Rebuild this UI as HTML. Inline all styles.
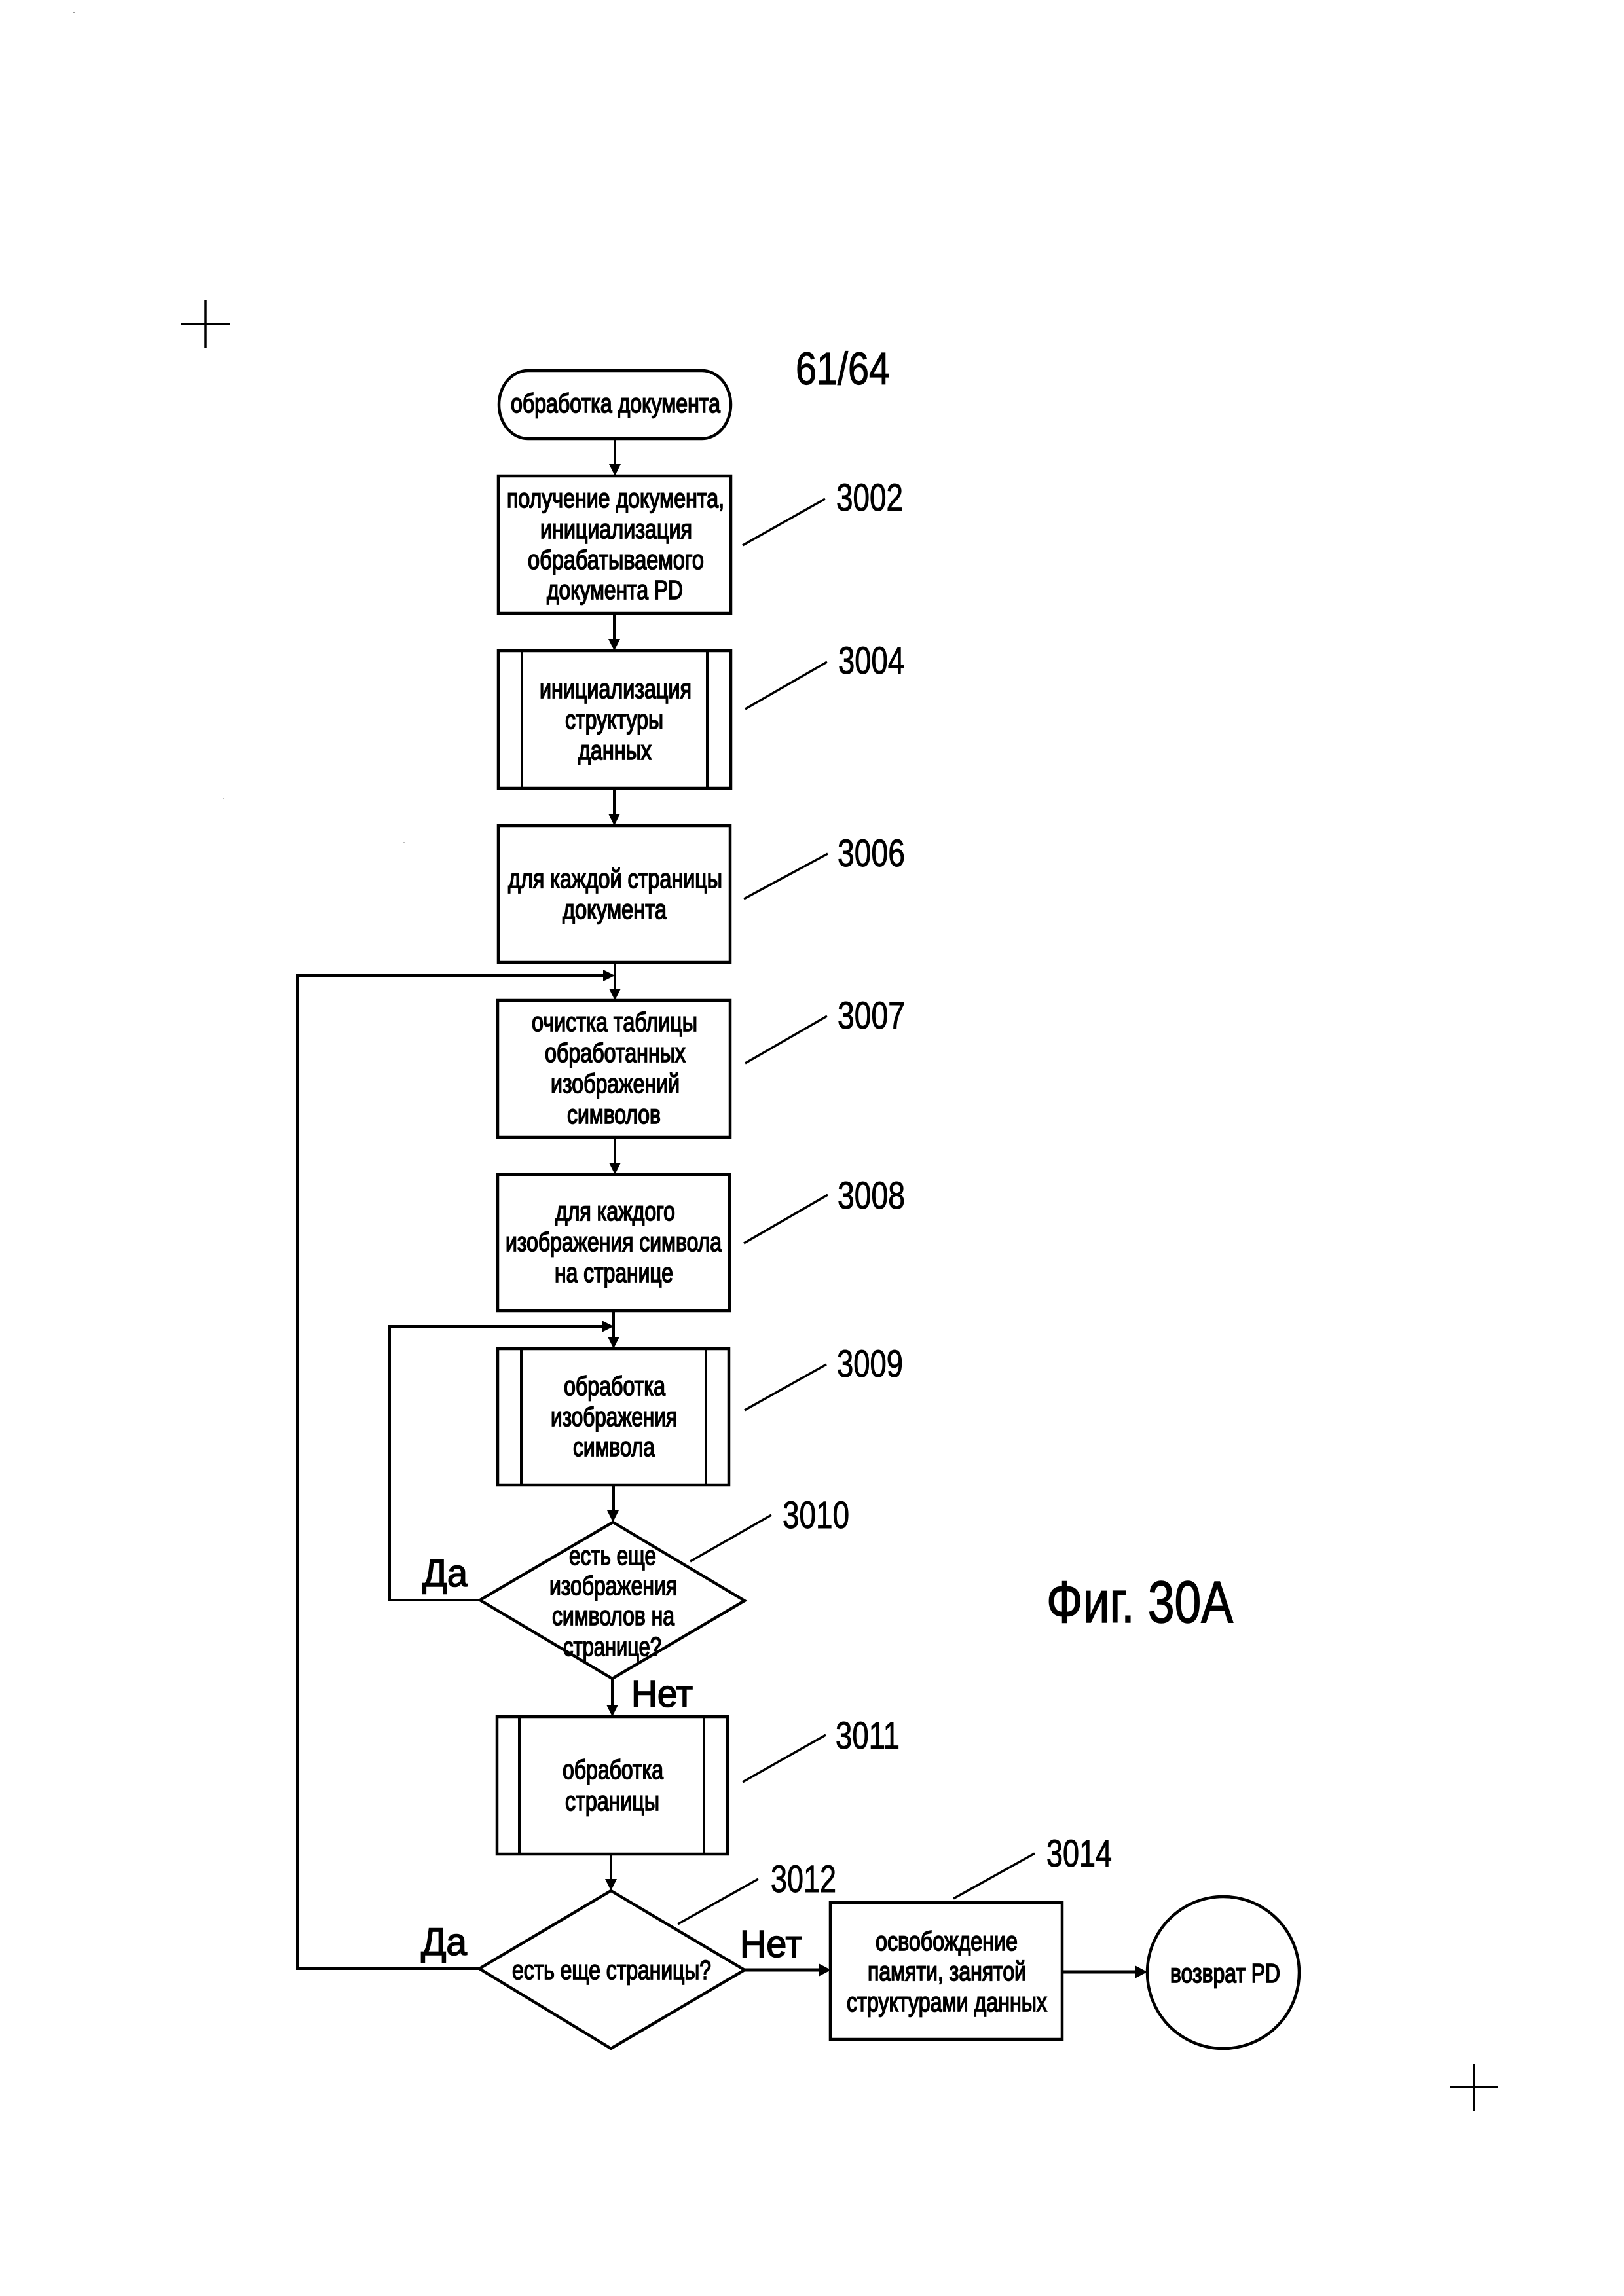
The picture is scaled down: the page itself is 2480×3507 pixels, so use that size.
<!DOCTYPE html>
<html lang="ru">
<head>
<meta charset="utf-8">
<title>Фиг. 30А</title>
<style>
html,body{margin:0;padding:0;background:#fff;}
svg{display:block;}
text{font-family:"Liberation Sans",sans-serif;fill:#000;}
.t{font-size:41px;stroke:#000;stroke-width:1.7px;}
.n{font-size:58px;stroke:#000;stroke-width:1px;}
.y{font-size:58px;stroke:#000;stroke-width:1.6px;}
.s{fill:#fff;stroke:#000;stroke-width:4.5px;}
.l{fill:none;stroke:#000;stroke-width:4px;}
.c{fill:none;stroke:#000;stroke-width:3.5px;}
</style>
</head>
<body>
<svg xmlns="http://www.w3.org/2000/svg" width="2480" height="3507" viewBox="0 0 2480 3507">
<rect width="2480" height="3507" fill="#fff"/>

<!-- scan specks -->
<rect x="112" y="18" width="2" height="2" fill="#999"/>
<rect x="340" y="1219" width="2" height="2" fill="#bbb"/>
<rect x="615" y="1286" width="3" height="2" fill="#bbb"/>

<!-- registration marks -->
<path class="c" d="M277 495H351M314 458V532"/>
<path class="c" d="M2215 3188H2287M2251 3153V3224"/>

<!-- connectors -->
<path class="l" d="M939 670V712"/>
<polygon points="939,727 930,709 948,709"/>
<path class="l" d="M938 937V980"/>
<polygon points="938,994 929,976 947,976"/>
<path class="l" d="M938 1204V1248"/>
<polygon points="938,1261 929,1243 947,1243"/>
<path class="l" d="M939 1470V1514"/>
<polygon points="939,1528 930,1510 948,1510"/>
<path class="l" d="M939 1737V1780"/>
<polygon points="939,1794 930,1776 948,1776"/>
<path class="l" d="M937 2002V2046"/>
<polygon points="937,2060 928,2042 946,2042"/>
<path class="l" d="M937 2268V2310"/>
<polygon points="936,2325 927,2307 945,2307"/>
<path class="l" d="M935 2564V2608"/>
<polygon points="935,2622 926,2604 944,2604"/>
<path class="l" d="M933 2832V2874"/>
<polygon points="933,2888 924,2870 942,2870"/>

<path class="l" d="M733 2444H595V2026H920"/>
<polygon points="937,2026 919,2017 919,2035"/>
<path class="l" d="M732 3007H454V1490H922"/>
<polygon points="939,1490 921,1481 921,1499"/>

<path d="M1137 3009H1255" fill="none" stroke="#000" stroke-width="5"/>
<polygon points="1269,3009 1250,2999 1250,3019"/>
<path d="M1622 3012H1738" fill="none" stroke="#000" stroke-width="5"/>
<polygon points="1752,3012 1733,3002 1733,3022"/>

<!-- leader lines -->
<path class="c" d="M1134 833L1260 762"/>
<path class="c" d="M1138 1083L1263 1011"/>
<path class="c" d="M1136 1373L1264 1304"/>
<path class="c" d="M1138 1624L1263 1552"/>
<path class="c" d="M1136 1899L1264 1825"/>
<path class="c" d="M1137 2154L1262 2084"/>
<path class="c" d="M1054 2385L1178 2314"/>
<path class="c" d="M1134 2722L1261 2650"/>
<path class="c" d="M1035 2939L1158 2870"/>
<path class="c" d="M1456 2900L1580 2831"/>

<!-- shapes -->
<rect class="s" x="762" y="566" width="354" height="104" rx="44" ry="52"/>
<rect class="s" x="761" y="727" width="355" height="210"/>
<rect class="s" x="761" y="994" width="355" height="210"/>
<path class="l" d="M797 994V1204M1080 994V1204"/>
<rect class="s" x="761" y="1261" width="354" height="209"/>
<rect class="s" x="760" y="1528" width="355" height="209"/>
<rect class="s" x="760" y="1794" width="354" height="208"/>
<rect class="s" x="760" y="2060" width="353" height="208"/>
<path class="l" d="M796 2060V2268M1078 2060V2268"/>
<polygon class="s" points="936,2325 1137,2445 935,2564 733,2444"/>
<rect class="s" x="759" y="2622" width="352" height="210"/>
<path class="l" d="M793 2622V2832M1075 2622V2832"/>
<polygon class="s" points="933,2888 1137,3009 933,3129 732,3007"/>
<rect class="s" x="1268" y="2906" width="354" height="209"/>
<ellipse class="s" cx="1868" cy="3013" rx="116" ry="116"/>

<!-- node text -->
<text class="t" x="780" y="630" textLength="320" lengthAdjust="spacingAndGlyphs">обработка документа</text>

<text class="t" x="774" y="775" textLength="332" lengthAdjust="spacingAndGlyphs">получение документа,</text>
<text class="t" x="825" y="822" textLength="232" lengthAdjust="spacingAndGlyphs">инициализация</text>
<text class="t" x="806" y="869" textLength="269" lengthAdjust="spacingAndGlyphs">обрабатываемого</text>
<text class="t" x="835" y="915" textLength="208" lengthAdjust="spacingAndGlyphs">документа PD</text>

<text class="t" x="824" y="1066" textLength="232" lengthAdjust="spacingAndGlyphs">инициализация</text>
<text class="t" x="863" y="1113" textLength="150" lengthAdjust="spacingAndGlyphs">структуры</text>
<text class="t" x="883" y="1160" textLength="112" lengthAdjust="spacingAndGlyphs">данных</text>

<text class="t" x="776" y="1356" textLength="327" lengthAdjust="spacingAndGlyphs">для каждой страницы</text>
<text class="t" x="859" y="1403" textLength="159" lengthAdjust="spacingAndGlyphs">документа</text>

<text class="t" x="812" y="1575" textLength="253" lengthAdjust="spacingAndGlyphs">очистка таблицы</text>
<text class="t" x="832" y="1622" textLength="215" lengthAdjust="spacingAndGlyphs">обработанных</text>
<text class="t" x="841" y="1669" textLength="197" lengthAdjust="spacingAndGlyphs">изображений</text>
<text class="t" x="866" y="1716" textLength="143" lengthAdjust="spacingAndGlyphs">символов</text>

<text class="t" x="848" y="1864" textLength="183" lengthAdjust="spacingAndGlyphs">для каждого</text>
<text class="t" x="772" y="1911" textLength="330" lengthAdjust="spacingAndGlyphs">изображения символа</text>
<text class="t" x="847" y="1958" textLength="181" lengthAdjust="spacingAndGlyphs">на странице</text>

<text class="t" x="861" y="2131" textLength="155" lengthAdjust="spacingAndGlyphs">обработка</text>
<text class="t" x="841" y="2178" textLength="193" lengthAdjust="spacingAndGlyphs">изображения</text>
<text class="t" x="875" y="2224" textLength="125" lengthAdjust="spacingAndGlyphs">символа</text>

<text class="t" x="869" y="2390" textLength="133" lengthAdjust="spacingAndGlyphs">есть еще</text>
<text class="t" x="839" y="2436" textLength="195" lengthAdjust="spacingAndGlyphs">изображения</text>
<text class="t" x="843" y="2482" textLength="187" lengthAdjust="spacingAndGlyphs">символов на</text>
<text class="t" x="860" y="2529" textLength="150" lengthAdjust="spacingAndGlyphs">странице?</text>

<text class="t" x="859" y="2717" textLength="154" lengthAdjust="spacingAndGlyphs">обработка</text>
<text class="t" x="863" y="2765" textLength="144" lengthAdjust="spacingAndGlyphs">страницы</text>

<text class="t" x="782" y="3023" textLength="304" lengthAdjust="spacingAndGlyphs">есть еще страницы?</text>

<text class="t" x="1337" y="2979" textLength="217" lengthAdjust="spacingAndGlyphs">освобождение</text>
<text class="t" x="1325" y="3025" textLength="242" lengthAdjust="spacingAndGlyphs">памяти, занятой</text>
<text class="t" x="1293" y="3072" textLength="306" lengthAdjust="spacingAndGlyphs">структурами данных</text>

<text class="t" x="1787" y="3028" textLength="168" lengthAdjust="spacingAndGlyphs">возврат PD</text>

<!-- branch labels -->
<text class="y" x="645" y="2423" textLength="69" lengthAdjust="spacingAndGlyphs">Да</text>
<text class="y" x="964" y="2607" textLength="94" lengthAdjust="spacingAndGlyphs">Нет</text>
<text class="y" x="643" y="2986" textLength="70" lengthAdjust="spacingAndGlyphs">Да</text>
<text class="y" x="1130" y="2989" textLength="95" lengthAdjust="spacingAndGlyphs">Нет</text>

<!-- reference numerals -->
<text class="n" x="1277" y="780" textLength="102" lengthAdjust="spacingAndGlyphs">3002</text>
<text class="n" x="1280" y="1029" textLength="101" lengthAdjust="spacingAndGlyphs">3004</text>
<text class="n" x="1279" y="1323" textLength="103" lengthAdjust="spacingAndGlyphs">3006</text>
<text class="n" x="1279" y="1571" textLength="103" lengthAdjust="spacingAndGlyphs">3007</text>
<text class="n" x="1279" y="1846" textLength="103" lengthAdjust="spacingAndGlyphs">3008</text>
<text class="n" x="1278" y="2103" textLength="101" lengthAdjust="spacingAndGlyphs">3009</text>
<text class="n" x="1195" y="2334" textLength="102" lengthAdjust="spacingAndGlyphs">3010</text>
<text class="n" x="1276" y="2671" textLength="98" lengthAdjust="spacingAndGlyphs">3011</text>
<text class="n" x="1177" y="2890" textLength="100" lengthAdjust="spacingAndGlyphs">3012</text>
<text class="n" x="1598" y="2851" textLength="100" lengthAdjust="spacingAndGlyphs">3014</text>

<!-- page number and figure caption -->
<text x="1215" y="587" font-size="70" textLength="144" lengthAdjust="spacingAndGlyphs" stroke="#000" stroke-width="1.2">61/64</text>
<text x="1598" y="2478" font-size="90" textLength="285" lengthAdjust="spacingAndGlyphs" stroke="#000" stroke-width="1.6">Фиг. 30А</text>
</svg>
</body>
</html>
